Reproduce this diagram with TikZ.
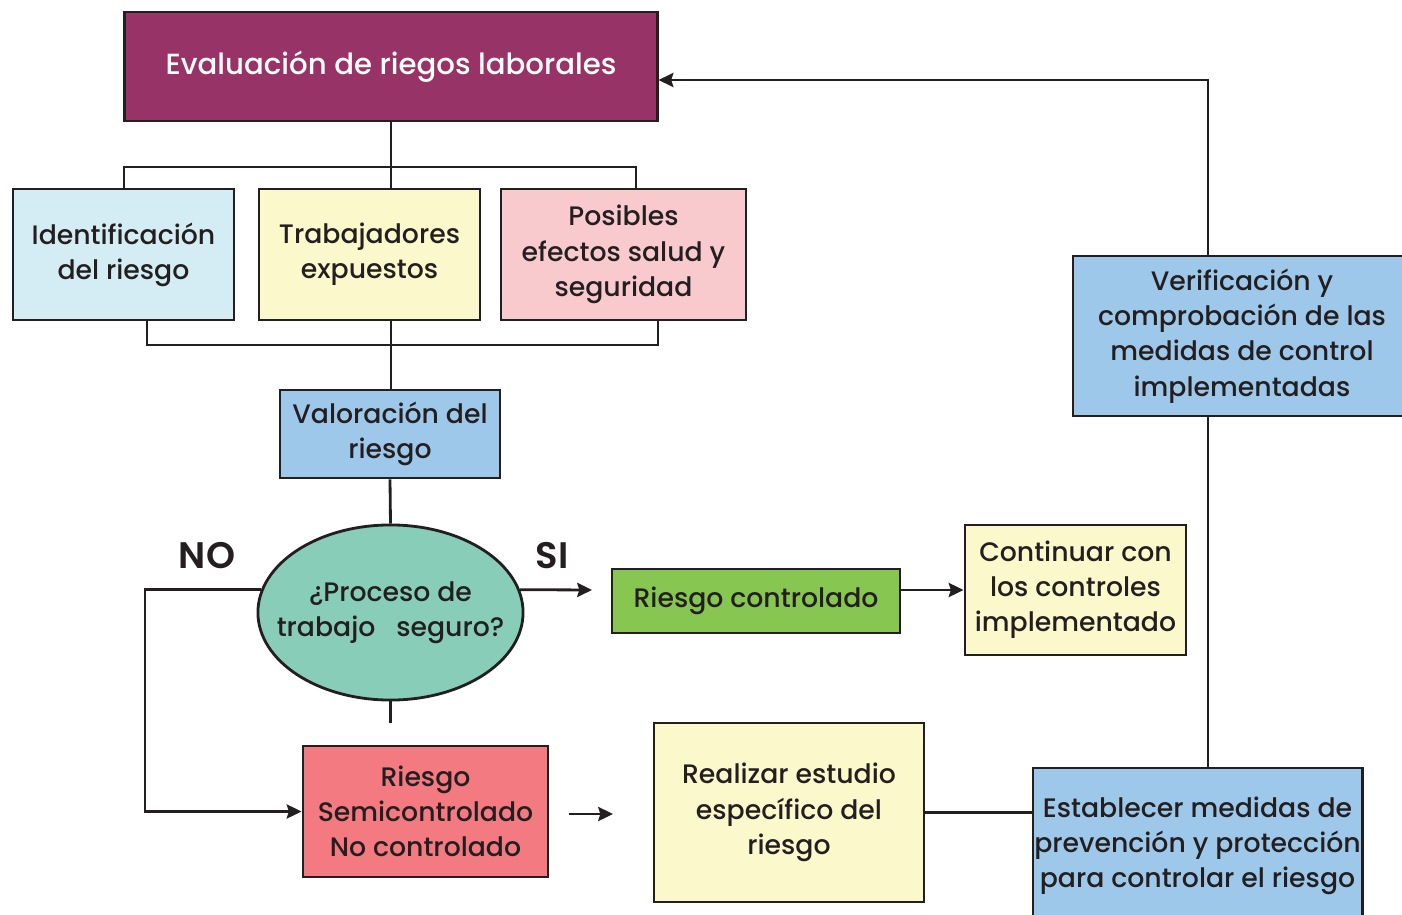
\documentclass[tikz,border=0pt]{standalone}
\usepackage{fontspec}
\setmainfont{Poppins}[UprightFont=* Medium, BoldFont=* SemiBold]
\usetikzlibrary{shapes.geometric}
\usetikzlibrary{arrows.meta}
\definecolor{inkdark}{HTML}{231F20}
\definecolor{evalpurple}{HTML}{973366}
\definecolor{identblue}{HTML}{D4ECF3}
\definecolor{paleyellow}{HTML}{FBF8CC}
\definecolor{palepink}{HTML}{F8CACD}
\definecolor{skyblue}{HTML}{9DC8EA}
\definecolor{mintgreen}{HTML}{88CDB7}
\definecolor{leafgreen}{HTML}{88C652}
\definecolor{salmonred}{HTML}{F27A80}
\tikzset{%
  box/.style={draw=inkdark, line width=0.8pt, inner sep=0pt, align=center,
    text=inkdark, font=\fontsize{7.6pt}{10pt}\selectfont},
  link/.style={draw=inkdark, line width=0.8pt},
  arr/.style={link, -{Stealth[length=4.2pt,width=4pt,inset=0.6pt]}},
  answer/.style={text=inkdark, inner sep=0pt, font=\fontsize{10.5pt}{12pt}\selectfont\bfseries}
}

\begin{document}
\begin{tikzpicture}[x=0.01cm, y=-0.01cm]
\useasboundingbox (0,0) rectangle (1402,915);

\node[box, fill=evalpurple, text=white, minimum width=5.32cm, minimum height=1.09cm,
  font=\fontsize{8.3pt}{10pt}\selectfont] at (391,66.5) (eval) {Evaluación de riegos laborales};
\node[box, fill=identblue, minimum width=2.21cm, minimum height=1.31cm] at (123.5,254.5) (ident) {Identificación\\del riesgo};
\node[box, fill=paleyellow, minimum width=2.21cm, minimum height=1.31cm] at (369.5,254.5) (trab) {Trabajadores\\expuestos};
\node[box, fill=palepink, minimum width=2.45cm, minimum height=1.31cm] at (623.5,254.5) (posib) {Posibles\\efectos salud y\\seguridad};
\node[box, fill=skyblue, minimum width=2.20cm, minimum height=0.88cm] at (390,434) (valor) {Valoración del\\riesgo};
\node[box, ellipse, fill=mintgreen, inner xsep=-0.4cm, inner ysep=-0.3cm,
  minimum width=2.65cm, minimum height=1.75cm] at (390.5,612.5) (proc) {¿Proceso de\\trabajo\ \ \ seguro?};
\node[box, fill=leafgreen, minimum width=2.88cm, minimum height=0.64cm] at (756,601) (contr) {Riesgo controlado};
\node[box, fill=paleyellow, minimum width=2.21cm, minimum height=1.30cm] at (1075.5,590) (cont) {Continuar con\\los controles\\implementado};
\node[box, fill=salmonred, minimum width=2.45cm, minimum height=1.31cm] at (425.5,811.5) (semi) {Riesgo\\Semicontrolado\\No controlado};
\node[box, fill=paleyellow, minimum width=2.70cm, minimum height=1.79cm] at (789,812.5) (realizar) {Realizar estudio\\específico del\\riesgo};
\node[box, fill=skyblue, minimum width=3.29cm, minimum height=1.56cm] at (1197.5,846) (establ) {Establecer medidas de\\prevención y protección\\para controlar el riesgo};
\node[box, fill=skyblue, minimum width=3.38cm, minimum height=1.60cm] at (1242,336) (verif) {Verificación y\\comprobación de las\\medidas de control\\implementadas};

\node[answer] at (207,556) (no) {NO};
\node[answer] at (552,556) (si) {SI};

\coordinate (tl) at (124,167);
\coordinate (tr) at (636,167);
\coordinate (bl) at (147,345);
\coordinate (br) at (658,345);
\draw[link] (eval.south) -- (eval.south |- trab.north);
\draw[link] (tl |- ident.north) -- (tl) -- (tr) -- (tr |- posib.north);
\draw[link] (bl |- ident.south) -- (bl) -- (br) -- (br |- posib.south);
\draw[link] (eval.south |- trab.south) -- (eval.south |- valor.north);
\draw[link] (valor.south) -- (proc.north);

\coordinate (stub) at (390.5,723);
\draw[link] (proc.south) -- (stub);
\coordinate (nol) at (145,700);
\draw[arr] (proc.170) -| (nol) |- (semi.west);
\coordinate (siend) at (592,590);
\draw[arr] (proc.10) -- (siend);
\draw[arr] (contr.east |- cont.west) -- (cont.west);

\coordinate (fa) at (569,814);
\coordinate (fb) at (613,814);
\draw[arr] (fa) -- (fb);
\draw[link] (realizar.east) -- (realizar.east -| establ.west);

\coordinate (vx) at (1208,80);
\draw[link] (vx |- establ.north) -- (vx |- verif.south);
\draw[arr] (vx |- verif.north) -- (vx) -- (vx -| eval.east);
\end{tikzpicture}
\end{document}
